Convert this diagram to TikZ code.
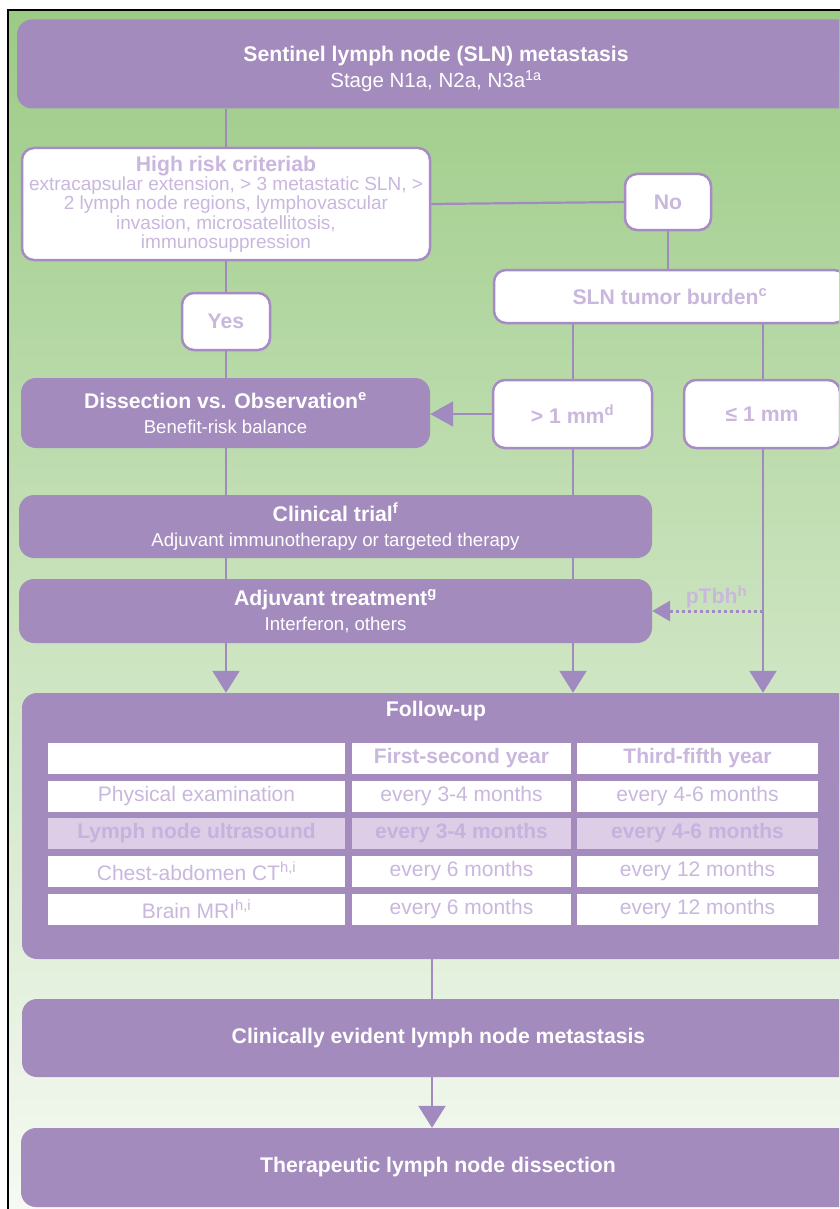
\documentclass[tikz,border=0pt]{standalone}
\usepackage{fontspec}
\setmainfont{Liberation Sans}
\usetikzlibrary{arrows.meta}
\definecolor{pfill}{RGB}{163,139,189}
\definecolor{pline}{RGB}{161,138,192}
\definecolor{pborder}{RGB}{167,139,197}
\definecolor{ptext}{RGB}{201,183,222}
\definecolor{rowfill}{RGB}{221,205,231}
\definecolor{rowtext}{RGB}{198,178,220}
\definecolor{bgtop}{RGB}{156,203,134}
\definecolor{bgmid}{RGB}{199,226,180}
\definecolor{bgbot}{RGB}{246,250,243}
\newcommand\ttlF{\fontsize{21.2}{25}\selectfont\bfseries}
\newcommand\subF{\fontsize{18.6}{25}\selectfont}
\newcommand\tabF{\fontsize{21}{24}\selectfont}
\pgfdeclarelayer{bgshade}
\pgfdeclarelayer{lines}
\pgfsetlayers{bgshade,lines,main}
\begin{document}
\begin{tikzpicture}[x=1pt,y=-1pt,
  pbox/.style={fill=pfill, draw=none, rounded corners=15pt, inner sep=0pt, text=white, align=center, font=\fontsize{19}{25}\selectfont},
  wbox/.style={fill=white, draw=pborder, line width=2.5pt, rounded corners=12pt, inner sep=0pt, text=ptext, align=center, font=\ttlF},
  conn/.style={draw=pline, line width=2.2pt},
  arr/.style={conn, -{Triangle[length=22pt,width=27pt]}},
  larr/.style={conn, -{Triangle[length=23pt,width=25pt]}},
  dotarr/.style={draw=pline, line width=3pt, dash pattern=on 3pt off 3pt, -{Triangle[length=18pt,width=20pt]}},
  cell/.style={fill=white, draw=none, inner sep=0pt, minimum height=31pt, text=ptext, font=\tabF},
  hcell/.style={cell, font=\tabF\bfseries},
  rcell/.style={cell, fill=rowfill, text=rowtext, font=\tabF\bfseries}
]
\useasboundingbox (0,0) rectangle (839,1209);
\clip (0,0) rectangle (839,1209);
\begin{pgfonlayer}{bgshade}
\shade[top color=bgtop, middle color=bgmid, bottom color=bgbot] (8,10) rectangle (845,1215);
\draw[line width=2pt] (8,1215) -- (8,10) -- (845,10);
\end{pgfonlayer}

% column coordinates
\coordinate (c1) at (226,0);
\coordinate (c2) at (573,0);
\coordinate (c3) at (763,0);
\coordinate (c4) at (432,0);

\node[pbox, minimum width=838pt, minimum height=89pt, font=\fontsize{20}{26}\selectfont] (sln) at (436,64)
  {{\ttlF\rule{0pt}{26pt}Sentinel lymph node (SLN) metastasis}\\{\fontsize{20.5}{26}\selectfont Stage N1a, N2a, N3a\textsuperscript{1a}}};

\node[wbox, minimum width=408pt, minimum height=112pt, font=\fontsize{19}{19.3}\selectfont] (risk) at (226,204)
  {{\ttlF High risk criteriab}\\extracapsular extension, > 3 metastatic SLN, >\\2 lymph node regions, lymphovascular\\invasion, microsatellitosis,\\immunosuppression};

\node[wbox, minimum width=86pt, minimum height=56pt] (no) at (668,202) {No};
\node[wbox, minimum width=352pt, minimum height=53pt] (burden) at (670,296.5) {SLN tumor burden\textsuperscript{c}};
\node[wbox, minimum width=88pt, minimum height=57pt] (yes) at (226,321.5) {Yes};

\node[pbox, minimum width=409pt, minimum height=70pt] (diss) at (225.5,413)
  {{\ttlF Dissection vs. Observation\textsuperscript{e}}\\{\subF Benefit-risk balance}};
\node[wbox, minimum width=159pt, minimum height=68pt] (gt) at (572.5,414) {> 1 mm\textsuperscript{d}};
\node[wbox, minimum width=156pt, minimum height=68pt] (le) at (762,414) {≤ 1 mm};

\node[pbox, minimum width=633pt, minimum height=63pt] (clin) at (335.5,526.5)
  {{\ttlF Clinical trial\textsuperscript{f}}\\{\subF Adjuvant immunotherapy or targeted therapy}};
\node[pbox, minimum width=633pt, minimum height=64pt] (adj) at (335.5,611)
  {{\ttlF Adjuvant treatment\textsuperscript{g}}\\{\subF Interferon, others}};

\node[pbox, minimum width=833pt, minimum height=266pt] (fu) at (438.5,826) {};
\node[text=white, font=\ttlF, inner sep=0pt] (futitle) at (436,711) {Follow-up};

% table
\node[cell, minimum width=297pt] (h1) at (196.5,758.5) {};
\node[hcell, minimum width=219pt] (h2) at (461.5,758.5) {First-second year};
\node[hcell, minimum width=241pt] (h3) at (697.5,758.5) {Third-fifth year};
\node[cell, minimum width=297pt] (a1) at (196.5,796.5) {Physical examination};
\node[cell, minimum width=219pt] (a2) at (461.5,796.5) {every 3-4 months};
\node[cell, minimum width=241pt] (a3) at (697.5,796.5) {every 4-6 months};
\node[rcell, minimum width=297pt] (b1) at (196.5,833.5) {Lymph node ultrasound};
\node[rcell, minimum width=219pt] (b2) at (461.5,833.5) {every 3-4 months};
\node[rcell, minimum width=241pt] (b3) at (697.5,833.5) {every 4-6 months};
\node[cell, minimum width=297pt] (d1) at (196.5,871.5) {Chest-abdomen CT\textsuperscript{h,i}};
\node[cell, minimum width=219pt] (d2) at (461.5,871.5) {every 6 months};
\node[cell, minimum width=241pt] (d3) at (697.5,871.5) {every 12 months};
\node[cell, minimum width=297pt] (e1) at (196.5,909.5) {Brain MRI\textsuperscript{h,i}};
\node[cell, minimum width=219pt] (e2) at (461.5,909.5) {every 6 months};
\node[cell, minimum width=241pt] (e3) at (697.5,909.5) {every 12 months};

\node[pbox, minimum width=833pt, minimum height=78pt, font=\ttlF] (cem) at (438.5,1038) {Clinically evident lymph node metastasis};
\node[pbox, minimum width=834pt, minimum height=79pt, font=\ttlF] (tld) at (438,1167.5) {Therapeutic lymph node dissection};

\begin{pgfonlayer}{lines}
\draw[arr] (sln.south -| c1) -- (fu.north -| c1);
\draw[conn] (risk.east) -- (no.west);
\draw[conn] (no.south) -- (no.south |- burden.north);
\draw[arr] (burden.south -| c2) -- (fu.north -| c2);
\draw[arr] (burden.south -| c3) -- (fu.north -| c3);
\draw[conn] (fu.south -| c4) -- (cem.north -| c4);
\end{pgfonlayer}
\draw[larr] (gt.west) -- (gt.west -| diss.east);
\coordinate (pt) at (763,611);
\draw[dotarr] (pt) -- node[pos=0.42, above, inner sep=1.5pt, text=ptext, font=\ttlF] (ptl) {pTbh\textsuperscript{h}} (adj.east);
\draw[arr] (cem.south -| c4) -- (tld.north -| c4);
\end{tikzpicture}
\end{document}
